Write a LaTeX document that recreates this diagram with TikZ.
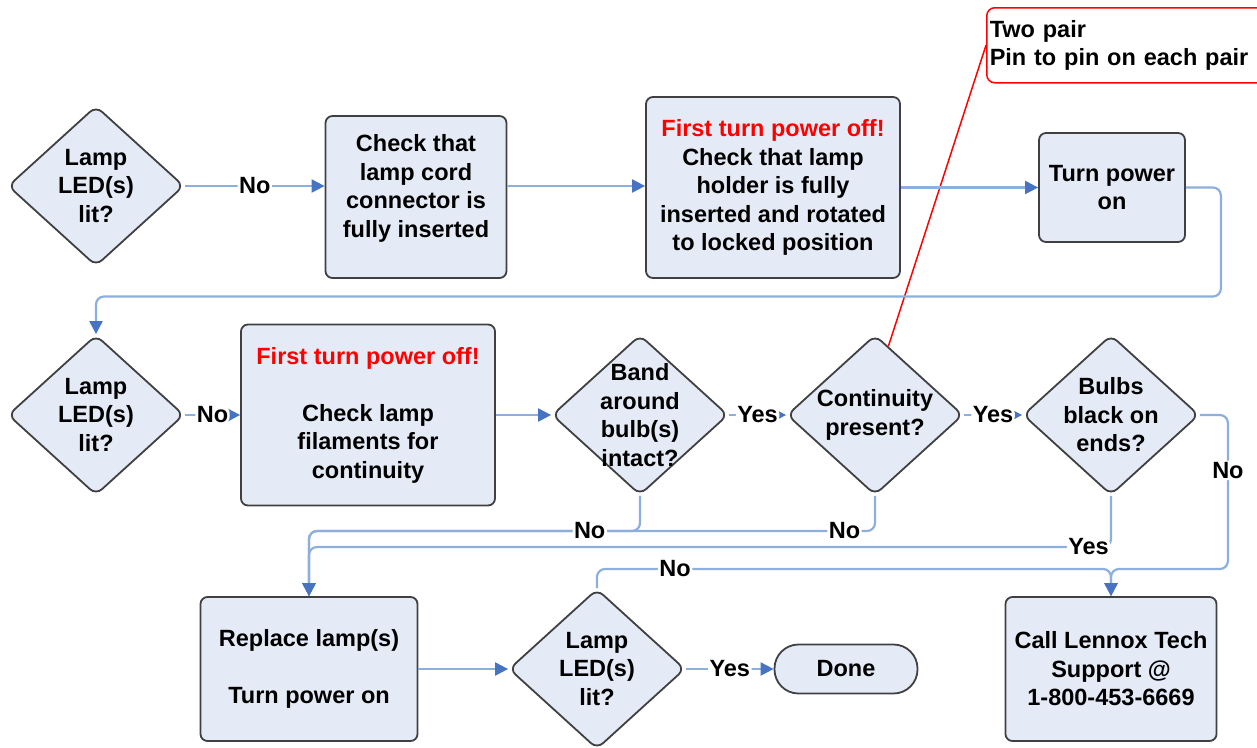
\documentclass[tikz,border=0pt]{standalone}
\usepackage{fontspec}
\setmainfont{Liberation Sans}
\usetikzlibrary{shapes.geometric,arrows.meta,positioning}
\definecolor{boxfill}{RGB}{229,235,246}
\definecolor{boxline}{RGB}{64,64,64}
\definecolor{flowline}{RGB}{140,175,222}
\definecolor{flowhead}{RGB}{70,116,194}

\begin{document}
\begin{tikzpicture}[x=1pt,y=-1pt,
		every node/.style={font=\fontsize{23.5}{28.5}\selectfont\bfseries},
		process/.style={
			draw=boxline,
			fill=boxfill,
			line width=1.8pt,
			rounded corners=7pt,
			align=center,
			inner sep=0pt
		},
		decision/.style={draw=boxline,fill=boxfill,line width=1.8pt,shape=diamond,rounded corners=8pt,
			inner sep=0pt,minimum width=176pt,minimum height=160pt
		},
		dtext/.style={align=center,inner sep=0pt},
		term/.style={process,rounded corners=24pt},
		note/.style={draw=red,line width=1.5pt,rounded corners=8pt,align=left,inner sep=3pt,
			text width=290pt,minimum height=75pt
		},
		lbl/.style={fill=white,inner sep=1.5pt},
		flow/.style={draw=flowline,line width=2.2pt,rounded corners=8pt,
			-{Triangle[length=13pt,width=13pt,color=flowhead]}
		}
		]
		\useasboundingbox (0,0) rectangle (1257,747);
		\clip (0,0) rectangle (1257,747);
		% top row
		\node[decision,label={[dtext]center:{Lamp\\LED(s)\\lit?}}] (lit1) at (96,186) {};
		\node[process,minimum width=181pt,minimum height=162pt,text depth=22pt] (cord) at (416,197)
			{Check that\\lamp cord\\connector is\\fully inserted};
		\node[process,minimum width=254pt,minimum height=181pt] (holder) at (773,187.5)
			{\textcolor{red}{First turn power off!}\\Check that lamp\\holder is fully\\inserted and rotated\\to locked position};
		\node[process,minimum width=146pt,minimum height=109pt] (poweron) at (1112,187.5) {Turn power\\on};
		\node[note,anchor=north west] (note) at (986,7) {Two pair\\Pin to pin on each pair};
		% middle row
		\node[decision,label={[dtext]center:{Lamp\\LED(s)\\lit?}}] (lit2) at (96,415) {};
		\node[process,minimum width=254pt,minimum height=181pt] (filament) at (368,415)
			{\textcolor{red}{First turn power off!}\\[28.5pt]Check lamp\\filaments for\\continuity};
		\node[decision,label={[dtext]center:{Band\\around\\bulb(s)\\intact?}}] (band) at (640,415) {};
		\node[decision,label={[dtext]center:{Continuity\\present?}}] (cont) at (875,415) {};
		\node[decision,label={[dtext]center:{Bulbs\\black on\\ends?}}] (black) at (1111,415) {};
		% bottom row
		\node[process,minimum width=217pt,minimum height=144pt] (replace) at (309,669)
			{Replace lamp(s)\\[28.5pt]Turn power on};
		\node[decision,label={[dtext]center:{Lamp\\LED(s)\\lit?}}] (lit3) at (597,669) {};
		\node[term,minimum width=143pt,minimum height=49pt] (done) at (846,669) {Done};
		\node[process,minimum width=211pt,minimum height=144pt] (call) at (1111,669)
			{Call Lennox Tech\\Support @\\1-800-453-6669};
		\coordinate (m1) at (309,531);
		\coordinate (m2) at (309,547);
		\coordinate (m3) at (1111,569);
		%Note
		\draw[red,line width=1.5pt] (note.west) -- (cont.79);
		% top row arrows
		\draw[flow] (lit1.east) -- node[lbl]{No} (lit1.east -| cord.west);
		\draw[flow] (lit1.east -| cord.east) -- (lit1.east -| holder.west);
		\draw[flow] (holder) -- (poweron);
		\draw[flow] (poweron.east) -| ++(35,109) -| (lit2.north);
		% middle row arrows
		\draw[flow] (lit2) -- node[lbl]{No} (filament);
		\draw[flow] (filament) -- (band);
		\draw[flow] (band) -- node[lbl]{Yes} (cont);
		\draw[flow] (cont) -- node[lbl]{Yes} (black);
		% back to replace / call
		\draw[flow] (black.south) |- node[lbl,pos=.514]{Yes} (m2) -- (replace.north);
		\draw[flow] (cont.south) |- node[lbl,pos=.527]{No} (m1) -- (replace.north);
		\draw[flow] (band.south) |- node[lbl,pos=.576]{No} (m1) -- (replace.north);
		\draw[flow] (black.east) -| node[lbl,pos=.68]{No} ++(28,154) -| (call.north);
		\draw[flow] (lit3.north) |- node[lbl,pos=.576]{No} (m3) -- (call.north);
		% bottom row arrows
		\draw[flow] (replace) -- (lit3);
		\draw[flow] (lit3) -- node[lbl]{Yes} (done);
\end{tikzpicture}
\end{document}
